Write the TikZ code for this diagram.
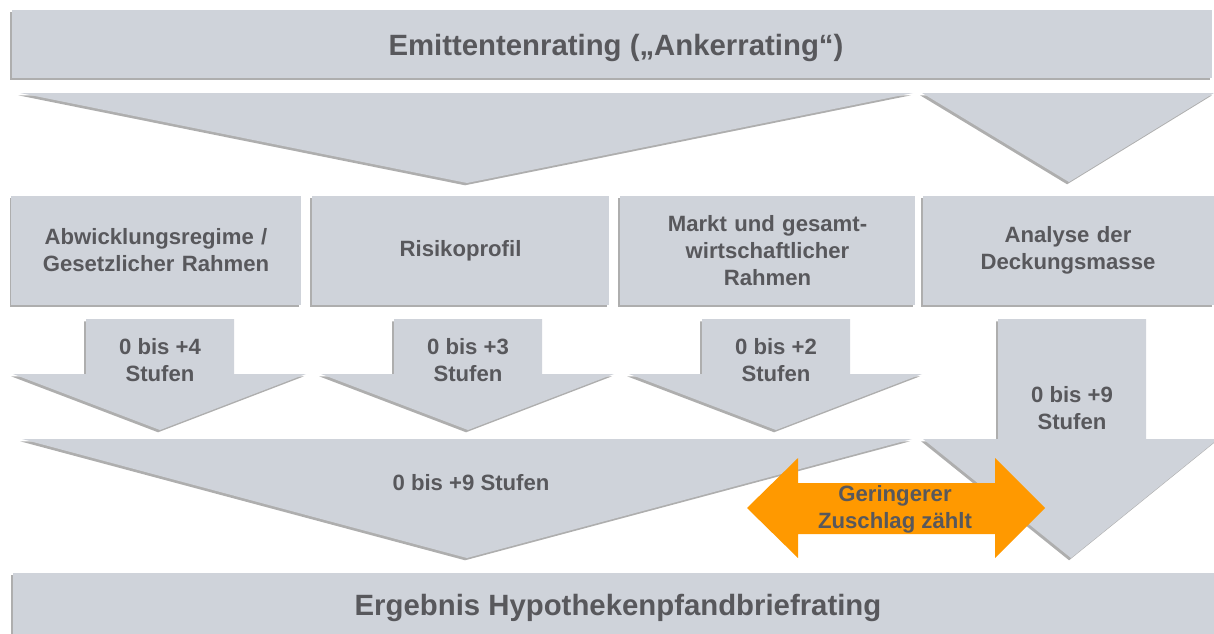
\documentclass[tikz,border=0pt]{standalone}
\usepackage{fontspec}
\setmainfont{Liberation Sans}
\usetikzlibrary{shadows}
\definecolor{boxgray}{RGB}{207,211,218}
\definecolor{txtgray}{RGB}{88,88,92}
\definecolor{zuschlag}{RGB}{255,153,0}

\begin{document}
\begin{tikzpicture}[x=0.2mm,y=-0.2mm,
    every node/.style={text=txtgray,align=center,font=\bfseries\fontsize{12.6}{15.3}\selectfont},
    grey/.style={fill=boxgray,drop shadow={shadow xshift=-1.1pt,shadow yshift=-1.3pt,fill=black!70,opacity=.45}},
    bar/.style={grey,inner sep=0pt,font=\bfseries\fontsize{16.7}{20}\selectfont},
    area/.style={grey,inner sep=0pt,minimum height=21.8mm,text width=54mm}]
    \useasboundingbox (0,0) rectangle (1214,633);
    \clip (0,0) rectangle (1214,633);

    % Ankerrating
    \node[bar,minimum width=240mm,minimum height=13.6mm] (anker) at (612,44)
      {\hspace*{4.5pt}\smash{\raisebox{-6.6pt}{Emittentenrating („Ankerrating“)}}};
    \path[grey] (20,93) -- (913,93) -- (467,183) -- cycle;
    \path[grey] (922,93) -- (1214,93) -- (1069,182) -- cycle;

    % Bausteine
    \node[area,minimum width=57.8mm] (regime) at (156,250.5) {Abwicklungsregime /\\Gesetzlicher Rahmen};
    \node[area,minimum width=59.4mm] (risiko) at (460.5,250.5) {Risikoprofil};
    \node[area,minimum width=59mm] (markt) at (767.5,250.5) {Markt und gesamt-\\wirtschaftlicher\\Rahmen};
    \node[area,minimum width=58.2mm] (deckung) at (1068,250.5) {Analyse der\\Deckungsmasse};

    % Zuschlaege
    \foreach \c/\n in {160/4,468/3,776/2} {
      \path[grey] (\c-74,319) -- (\c+74,319) -- (\c+74,374) -- (\c+146,374)
        -- (\c,430) -- (\c-147,374) -- (\c-74,374) -- cycle;
      \node (stufen\n) at (\c,360) {0 bis +\n\\Stufen};
    }
    \path[grey] (22,439) -- (912,439) -- (467,558) -- cycle;
    \node (summe) at (471,483) {0 bis +9 Stufen};
    \path[grey] (998,319) -- (1146,319) -- (1146,439) -- (1218,439)
      -- (1071,558) -- (923,439) -- (998,439) -- cycle;
    \node (stufen9) at (1072,408) {0 bis +9\\Stufen};

    % geringerer Zuschlag
    \fill[zuschlag] (747,508) -- (798,458) -- (798,483) -- (995,483) -- (995,458) -- (1045,508)
      -- (995,558) -- (995,534) -- (798,534) -- (798,558) -- cycle;
    \node (geringer) at (895,509) {Geringerer\\Zuschlag zählt};

    % Ergebnis
    \node[bar,minimum width=242mm,minimum height=14mm] (ergebnis) at (618,608) {Ergebnis Hypothekenpfandbriefrating};
\end{tikzpicture}
\end{document}
